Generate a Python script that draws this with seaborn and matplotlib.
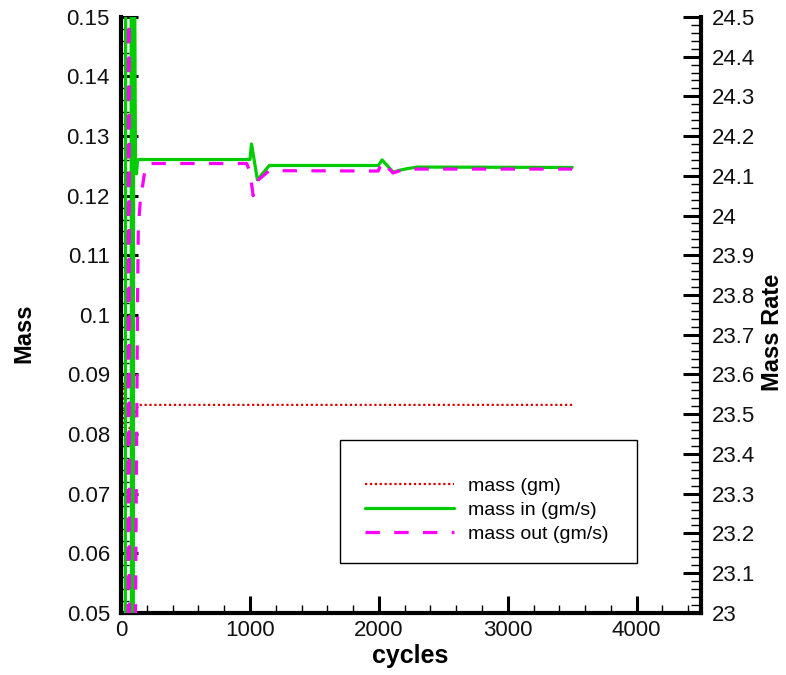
import matplotlib
matplotlib.use("Agg")
import matplotlib.pyplot as plt
import seaborn as sns
import pandas as pd
from matplotlib.ticker import MultipleLocator, FuncFormatter
from matplotlib.patches import Rectangle

# ---- data ----
mass_cycles = [18, 22, 70, 90, 100, 110, 140, 3500]
mass_gm = [0.0886, 0.0812, 0.0810, 0.0810, 0.0822, 0.0840, 0.0849, 0.0849]

in_cycles = [0, 33, 36, 78, 81, 95, 98, 104, 112, 120, 128, 140, 160,
             1000, 1012, 1058, 1150, 1996, 2025, 2112, 2160, 2220, 2300, 3500]
in_rate = [22.8, 22.8, 24.7, 24.7, 22.8, 22.8, 24.7, 24.7, 24.12, 24.105, 24.14, 24.141, 24.141,
           24.141, 24.18, 24.09, 24.126, 24.126, 24.14, 24.109, 24.114, 24.118, 24.122, 24.121]

out_cycles = [0, 55, 58, 62, 66, 108, 112, 128, 134, 150, 165, 190, 210,
              975, 1000, 1025, 1066, 1150, 1995, 2025, 2110, 2200, 3500]
out_rate = [22.8, 22.8, 24.7, 24.7, 22.8, 22.8, 23.0, 23.79, 23.97, 24.04, 24.07, 24.125, 24.131,
            24.131, 24.11, 24.05, 24.09, 24.113, 24.112, 24.136, 24.107, 24.117, 24.117]

labels = ["mass (gm)", "mass in (gm/s)", "mass out (gm/s)"]

sns.set_theme(style="white")
plt.rcParams["font.family"] = ["Liberation Sans", "DejaVu Sans"]

fig = plt.figure(figsize=(7.86, 6.75), dpi=100)
ax = fig.add_axes([0.154, 0.092, 0.738, 0.883])
ax2 = ax.twinx()

df_m = pd.DataFrame({"cycles": mass_cycles, "v": mass_gm})
df_i = pd.DataFrame({"cycles": in_cycles, "v": in_rate})
df_o = pd.DataFrame({"cycles": out_cycles, "v": out_rate})

sns.lineplot(data=df_m, x="cycles", y="v", ax=ax, color="#e00000", linewidth=1.6,
             linestyle=(0, (1, 1.2)), sort=False, estimator=None)
sns.lineplot(data=df_i, x="cycles", y="v", ax=ax2, color="#00cc00", linewidth=2.3,
             sort=False, estimator=None)
sns.lineplot(data=df_o, x="cycles", y="v", ax=ax2, color="#ff00ff", linewidth=2.3,
             linestyle=(0, (4.5, 4.5)), sort=False, estimator=None)

h_mass = ax.lines[-1]
h_in, h_out = ax2.lines[-2], ax2.lines[-1]

ax.set_xlim(0, 4500)
ax.set_ylim(0.05, 0.15)
ax2.set_ylim(23, 24.5)

fmt = FuncFormatter(lambda v, p: "%g" % round(v, 6))
ax.xaxis.set_major_locator(MultipleLocator(1000))
ax.xaxis.set_minor_locator(MultipleLocator(200))
ax.yaxis.set_major_locator(MultipleLocator(0.01))
ax.yaxis.set_minor_locator(MultipleLocator(0.002))
ax2.yaxis.set_major_locator(MultipleLocator(0.1))
ax2.yaxis.set_minor_locator(MultipleLocator(0.02))
ax.xaxis.set_major_formatter(fmt)
ax.yaxis.set_major_formatter(fmt)
ax2.yaxis.set_major_formatter(fmt)

tick_font = 16
ax.tick_params(axis="both", which="major", direction="in", length=12, width=2.2,
               labelsize=tick_font, labelcolor="#111111", color="black", pad=8)
ax.tick_params(axis="both", which="minor", direction="in", length=6, width=1.0, color="black")
ax.tick_params(axis="x", which="major", pad=5)
ax.tick_params(left=True, bottom=True, which="both")
ax2.tick_params(axis="y", which="major", direction="in", length=13, width=2.2,
                labelsize=tick_font, labelcolor="#111111", color="black", pad=8, right=True)
ax2.tick_params(axis="y", which="minor", direction="in", length=7, width=1.0, color="black", right=True)

for s in ["top", "right"]:
    ax.spines[s].set_visible(False)
for s in ["left", "bottom"]:
    ax.spines[s].set_linewidth(3)
    ax.spines[s].set_color("black")
for s in ["top", "left", "bottom"]:
    ax2.spines[s].set_visible(False)
ax2.spines["right"].set_linewidth(3)
ax2.spines["right"].set_color("black")

ax.set_xlabel("cycles", fontsize=18, fontweight="bold", color="black")
ax.set_ylabel("Mass", fontsize=17, fontweight="bold", color="black")
ax2.set_ylabel("Mass Rate", fontsize=17, fontweight="bold", rotation=90, color="black")
ax.xaxis.set_label_coords(0.498, -0.052)
ax.yaxis.set_label_coords(-0.148, 0.47)
ax2.yaxis.set_label_coords(1.103, 0.47)

ax.grid(False)
ax2.grid(False)

# legend box
ax2.add_patch(Rectangle((0.378, 0.084), 0.512, 0.206, transform=ax2.transAxes,
                        facecolor="white", edgecolor="black", linewidth=1.0, zorder=5))
leg = ax2.legend([h_mass, h_in, h_out], labels, loc="upper left",
                 bbox_to_anchor=(0.42, 0.228), frameon=False, fontsize=14,
                 handlelength=4.6, handletextpad=0.7, labelspacing=0.33, borderpad=0,
                 borderaxespad=0)
for t in leg.get_texts():
    t.set_color("black")
leg.set_zorder(6)

fig.savefig("out.png", dpi=100)
